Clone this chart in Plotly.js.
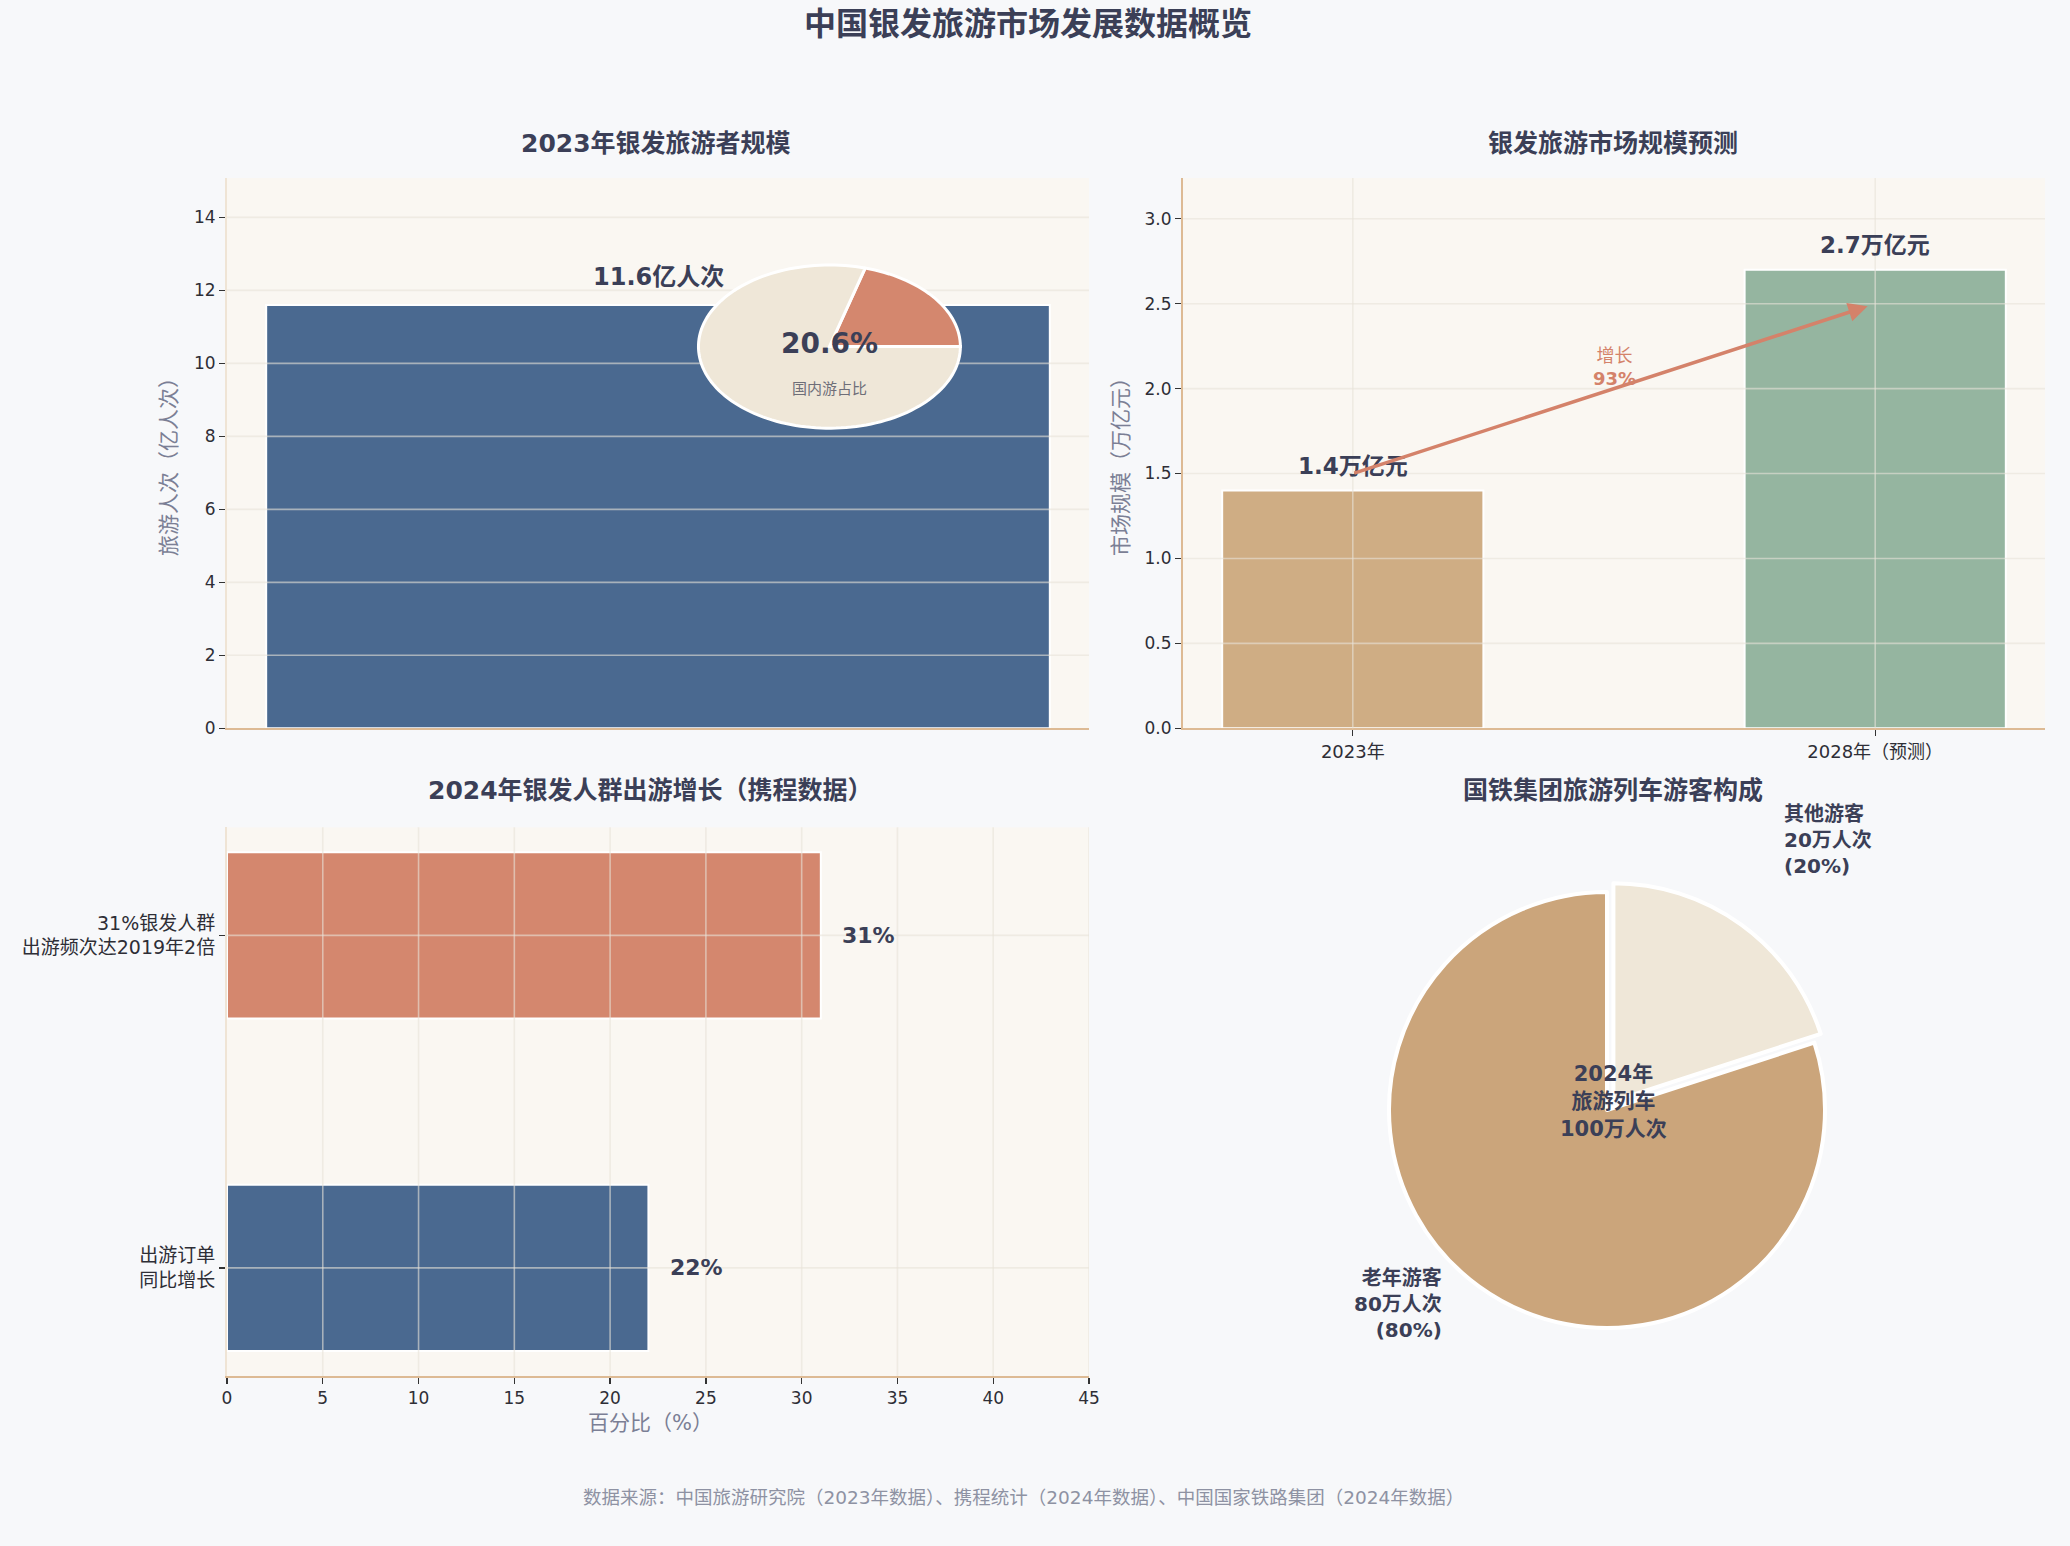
<!DOCTYPE html>
<html><head><meta charset="utf-8">
<script src="https://cdn.plot.ly/plotly-3.0.1.min.js"></script>
<style>html,body{margin:0;padding:0;background:#F7F8FA;} #chart{width:2070px;height:1546px;}</style>
</head><body><div id="chart"></div>
<script>
// ---------------- DATA ----------------
const travelerCategories = ['2023年'];
const travelerValues = [11.6];               // 亿人次
const domesticShareLabels = ['银发游客', '其他'];
const domesticShareValues = [20.6, 79.4];     // %

const marketYears = ['2023年', '2028年（预测）'];
const marketValues = [1.4, 2.7];              // 万亿元

const growthCategories = ['出游订单\n同比增长', '31%银发人群\n出游频次达2019年2倍'];
const growthValues = [22, 31];                // %

const trainLabels = ['老年游客', '其他游客'];
const trainValues = [80, 20];                 // 万人次

// ---------------- STYLE / LAYOUT HELPERS ----------------
const W = 2070, H = 1546;
const px = v => v / W;
const py = v => 1 - v / H;
const FONT = 'DejaVu Sans, Noto Sans CJK SC, sans-serif';
const DARK = '#3B3F57';
const GRID = 'rgba(232,226,216,0.6)';
const SPINE = '#DDBA94';
const SPINE_LIGHT = '#EFE4D5';
const BLUE = '#4A6990', ORANGE = '#D4876E', TAN = '#CFAD84', GREEN = '#95B5A0';
const PIE_TAN = '#CBA57B', BEIGE = '#EFE7D8';
const br = s => s.replace(/\n/g, '<br>');

const traces = [];
// Panel 1: bar
traces.push({
  type: 'bar', x: travelerCategories.map((c, i) => i), y: travelerValues, width: 0.8,
  marker: {color: BLUE, line: {color: '#ffffff', width: 2}}, xaxis: 'x', yaxis: 'y', hoverinfo: 'skip'
});
// Panel 2: bars
traces.push({
  type: 'bar', x: marketYears.map((c, i) => i), y: marketValues, width: 0.5,
  marker: {color: [TAN, GREEN], line: {color: '#ffffff', width: 2}}, xaxis: 'x2', yaxis: 'y2', hoverinfo: 'skip'
});
// Panel 3: horizontal bars
traces.push({
  type: 'bar', orientation: 'h', y: growthCategories.map((c, i) => i), x: growthValues, width: 0.5,
  marker: {color: [BLUE, ORANGE], line: {color: '#ffffff', width: 2}}, xaxis: 'x3', yaxis: 'y3', hoverinfo: 'skip'
});
// Panel 4: pie (first slice runs counter-clockwise from 12 o'clock, as in the reference)
const pieCx = 1607, pieCy = 1110, pieR = 218, pull = 0.05;
const half = pieR * (1 + pull);
const trainTotal = trainValues.reduce((a, b) => a + b, 0);
traces.push({
  type: 'pie', labels: trainLabels, values: trainValues, sort: false, direction: 'clockwise',
  rotation: trainValues[1] / trainTotal * 360,
  pull: [0, pull], marker: {colors: [PIE_TAN, BEIGE], line: {color: '#ffffff', width: 4}},
  textinfo: 'none', hoverinfo: 'skip', showlegend: false,
  domain: {x: [px(pieCx - half), px(pieCx + half)], y: [py(pieCy + half), py(pieCy - half)]}
});

// ---------------- SHAPES ----------------
const shapes = [];
function range(a, b, s) { const r = []; for (let v = a; v <= b + 1e-9; v += s) r.push(+v.toFixed(6)); return r; }
function hGrid(xa, ya, vals) { vals.forEach(v => shapes.push({type: 'line', xref: xa + ' domain', x0: 0, x1: 1, yref: ya, y0: v, y1: v, line: {color: GRID, width: 1.6}, layer: 'above'})); }
function vGrid(xa, ya, vals) { vals.forEach(v => shapes.push({type: 'line', yref: ya + ' domain', y0: 0, y1: 1, xref: xa, x0: v, x1: v, line: {color: GRID, width: 1.6}, layer: 'above'})); }
hGrid('x', 'y', range(2, 14, 2));
hGrid('x2', 'y2', range(0.5, 3.0, 0.5));
vGrid('x2', 'y2', marketYears.map((c, i) => i));
vGrid('x3', 'y3', range(5, 45, 5));
hGrid('x3', 'y3', growthCategories.map((c, i) => i));

// inset elliptical pie on panel 1 (drawn in panel-1 data coordinates)
const inset = {cx: 0.175, cy: 10.46, rx: 0.1337, ry: 2.236};
(function () {
  const total = domesticShareValues.reduce((a, b) => a + b, 0);
  const cols = [ORANGE, BEIGE];
  let a = 0;
  domesticShareValues.forEach((v, i) => {
    const a1 = a + v / total * 2 * Math.PI;
    const n = Math.max(10, Math.ceil((a1 - a) / (2 * Math.PI) * 160));
    let d = `M${inset.cx},${inset.cy}`;
    for (let k = 0; k <= n; k++) {
      const t = a + (a1 - a) * k / n;
      d += ` L${(inset.cx + inset.rx * Math.cos(t)).toFixed(5)},${(inset.cy + inset.ry * Math.sin(t)).toFixed(5)}`;
    }
    d += ' Z';
    shapes.push({type: 'path', xref: 'x', yref: 'y', path: d, fillcolor: cols[i], line: {color: '#ffffff', width: 3}, layer: 'above'});
    a = a1;
  });
})();

// ---------------- ANNOTATIONS ----------------
const ann = [];
const A = o => ann.push(Object.assign({showarrow: false, xanchor: 'center', yanchor: 'middle', font: {family: FONT, color: DARK, size: 16}}, o));
// titles
A({xref: 'paper', yref: 'paper', x: px(1028), y: py(24), text: '<b>中国银发旅游市场发展数据概览</b>', font: {family: FONT, color: DARK, size: 32}});
A({xref: 'paper', yref: 'paper', x: px(656), y: py(143), text: '<b>2023年银发旅游者规模</b>', font: {family: FONT, color: DARK, size: 25}});
A({xref: 'paper', yref: 'paper', x: px(1613), y: py(143), text: '<b>银发旅游市场规模预测</b>', font: {family: FONT, color: DARK, size: 25}});
A({xref: 'paper', yref: 'paper', x: px(650), y: py(790), text: '<b>2024年银发人群出游增长（携程数据）</b>', font: {family: FONT, color: DARK, size: 25}});
A({xref: 'paper', yref: 'paper', x: px(1613), y: py(790), text: '<b>国铁集团旅游列车游客构成</b>', font: {family: FONT, color: DARK, size: 25}});
// axis titles
A({xref: 'paper', yref: 'paper', x: px(169), y: py(462), textangle: -90, text: '旅游人次（亿人次）', font: {family: FONT, color: '#7B7F95', size: 21}});
A({xref: 'paper', yref: 'paper', x: px(1121), y: py(462), textangle: -90, text: '市场规模（万亿元）', font: {family: FONT, color: '#7B7F95', size: 21}});
A({xref: 'paper', yref: 'paper', x: px(650), y: py(1423), text: '百分比（%）', font: {family: FONT, color: '#7B7F95', size: 21}});
// footer
A({xref: 'paper', yref: 'paper', x: px(1023), y: py(1497), text: '数据来源：中国旅游研究院（2023年数据）、携程统计（2024年数据）、中国国家铁路集团（2024年数据）', font: {family: FONT, color: '#8E92A3', size: 18.5}});

// panel 1 labels
travelerValues.forEach((v, i) => A({xref: 'x', yref: 'y', x: i, y: v, yshift: 28, text: `<b>${v}亿人次</b>`, font: {family: FONT, color: DARK, size: 24}}));
A({xref: 'x', yref: 'y', x: inset.cx, y: inset.cy, yshift: 3, text: `<b>${domesticShareValues[0]}%</b>`, font: {family: FONT, color: DARK, size: 28}});
A({xref: 'x', yref: 'y', x: inset.cx, y: inset.cy, yshift: -42, text: '国内游占比', font: {family: FONT, color: '#6E6E78', size: 15}});

// panel 2 labels
marketValues.forEach((v, i) => A({xref: 'x2', yref: 'y2', x: i, y: v, yshift: 25, text: `<b>${v}万亿元</b>`, font: {family: FONT, color: DARK, size: 23}}));
const growthPct = Math.round((marketValues[1] - marketValues[0]) / marketValues[0] * 100);
ann.push({xref: 'x2', yref: 'y2', axref: 'x2', ayref: 'y2', x: 1, y: 2.5, ax: 0, ay: 1.5, showarrow: true,
  arrowhead: 2, arrowsize: 1.1, arrowwidth: 3.5, arrowcolor: '#D4826A', standoff: 8, text: ''});
A({xref: 'x2', yref: 'y2', x: 0.5, y: 2.125, text: `增长<br><b>${growthPct}%</b>`, font: {family: FONT, color: '#D4826A', size: 18}});

// panel 3 labels
growthValues.forEach((v, i) => A({xref: 'x3', yref: 'y3', x: v + 1, y: i, xanchor: 'left', text: `<b>${v}%</b>`, font: {family: FONT, color: DARK, size: 22}}));

// panel 4 labels
A({xref: 'paper', yref: 'paper', x: px(1613), y: py(1101), text: `<b>2024年<br>旅游列车<br>${trainTotal}万人次</b>`, font: {family: FONT, color: DARK, size: 21}});
A({xref: 'paper', yref: 'paper', x: px(1782), y: py(840), xanchor: 'left', align: 'left',
  text: `<b>${trainLabels[1]}<br>${trainValues[1]}万人次<br>(${Math.round(trainValues[1] / trainTotal * 100)}%)</b>`, font: {family: FONT, color: DARK, size: 20}});
A({xref: 'paper', yref: 'paper', x: px(1444), y: py(1304), xanchor: 'right', align: 'right',
  text: `<b>${trainLabels[0]}<br>${trainValues[0]}万人次<br>(${Math.round(trainValues[0] / trainTotal * 100)}%)</b>`, font: {family: FONT, color: DARK, size: 20}});

// ---------------- AXES ----------------
const tickfont = {family: FONT, color: '#2E2E36', size: 17};
const catfont = {family: FONT, color: '#2E2E36', size: 19};
const baseAx = {zeroline: false, showgrid: false, fixedrange: true, tickfont: tickfont, ticks: 'outside', ticklen: 6, tickwidth: 1.3, tickcolor: '#333'};
const p12y = [py(728.3), py(178)];
const p3y = [py(1376), py(827.3)];
const leftX = [px(227), px(1089)];
const rightX = [px(1183), px(2045)];

const layout = {
  width: W, height: H, margin: {l: 0, r: 0, t: 0, b: 0},
  paper_bgcolor: '#F7F8FA', plot_bgcolor: '#FAF7F2', showlegend: false, hovermode: false,
  font: {family: FONT, color: DARK},
  xaxis: Object.assign({}, baseAx, {domain: leftX, anchor: 'y', range: [-0.44, 0.44], showticklabels: false, ticks: '', showline: true, linecolor: SPINE, linewidth: 2}),
  yaxis: Object.assign({}, baseAx, {domain: p12y, anchor: 'x', range: [0, 15.08], dtick: 2, showline: true, linecolor: SPINE_LIGHT, linewidth: 2}),
  xaxis2: Object.assign({}, baseAx, {domain: rightX, anchor: 'y2', range: [-0.325, 1.325], tickmode: 'array', tickvals: marketYears.map((c, i) => i), ticktext: marketYears, tickfont: {family: FONT, color: '#2E2E36', size: 18}, showline: true, linecolor: SPINE, linewidth: 2}),
  yaxis2: Object.assign({}, baseAx, {domain: p12y, anchor: 'x2', range: [0, 3.24], dtick: 0.5, tickformat: '.1f', showline: true, linecolor: SPINE, linewidth: 2}),
  xaxis3: Object.assign({}, baseAx, {domain: leftX, anchor: 'y3', range: [0, 45], dtick: 5, showline: true, linecolor: SPINE, linewidth: 2}),
  yaxis3: Object.assign({}, baseAx, {domain: p3y, anchor: 'x3', range: [-0.325, 1.325], tickmode: 'array', tickvals: growthCategories.map((c, i) => i), ticktext: growthCategories.map(br), tickfont: catfont, showline: true, linecolor: SPINE_LIGHT, linewidth: 2}),
  shapes: shapes,
  annotations: ann
};

Plotly.newPlot('chart', traces, layout, {staticPlot: true, displayModeBar: false});
</script></body></html>
